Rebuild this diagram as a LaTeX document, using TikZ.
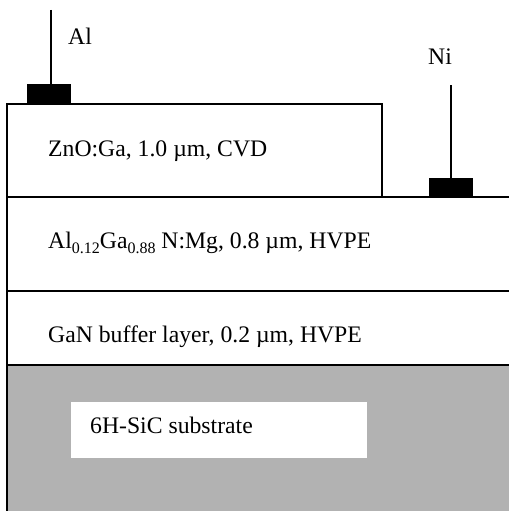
\documentclass[tikz,border=0pt]{standalone}
\usepackage{fontspec}
\setmainfont{Liberation Serif}
\definecolor{subgray}{HTML}{B2B2B2}
\newcommand{\subs}[1]{\raisebox{-5pt}{\fontsize{16}{16}\selectfont #1}}
\begin{document}
\begin{tikzpicture}[x=1pt,y=-1pt,
  lbl/.style={inner sep=0pt,anchor=base west,font=\fontsize{23.7}{28}\selectfont},
  edge/.style={line width=1.4pt,black},
  contact/.style={fill=black,draw=none}]
\useasboundingbox (0,0) rectangle (509,511);
% substrate
\fill[subgray] (7,365) rectangle (509,511);
\fill[white] (71,402) rectangle (367,458);
% layer outlines
\draw[edge] (7,511) -- (7,104) -- (382,104) -- (382,197);
\draw[edge] (7,197) -- (509,197);
\draw[edge] (7,291) -- (509,291);
\draw[edge] (7,365) -- (509,365);
% contacts
\fill[contact] (27,84) rectangle (71,104);
\fill[contact] (429,178) rectangle (473,197);
\coordinate (alt) at (51,10);
\coordinate (alb) at (51,84);
\coordinate (nit) at (451,85);
\coordinate (nib) at (451,178);
\draw[edge] (alt) -- (alb);
\draw[edge] (nit) -- (nib);
% labels
\node[lbl] (al) at (68,45) {Al};
\node[lbl] (ni) at (428,65) {Ni};
\node[lbl] (zno) at (48,156) {ZnO:Ga, 1.0 µm, CVD};
\node[lbl] (algan) at (48,248) {Al\subs{0.12}Ga\subs{0.88} N:Mg, 0.8 µm, HVPE};
\node[lbl] (gan) at (48,342) {GaN buffer layer, 0.2 µm, HVPE};
\node[lbl] (sic) at (90,433) {6H-SiC substrate};
\end{tikzpicture}
\end{document}
